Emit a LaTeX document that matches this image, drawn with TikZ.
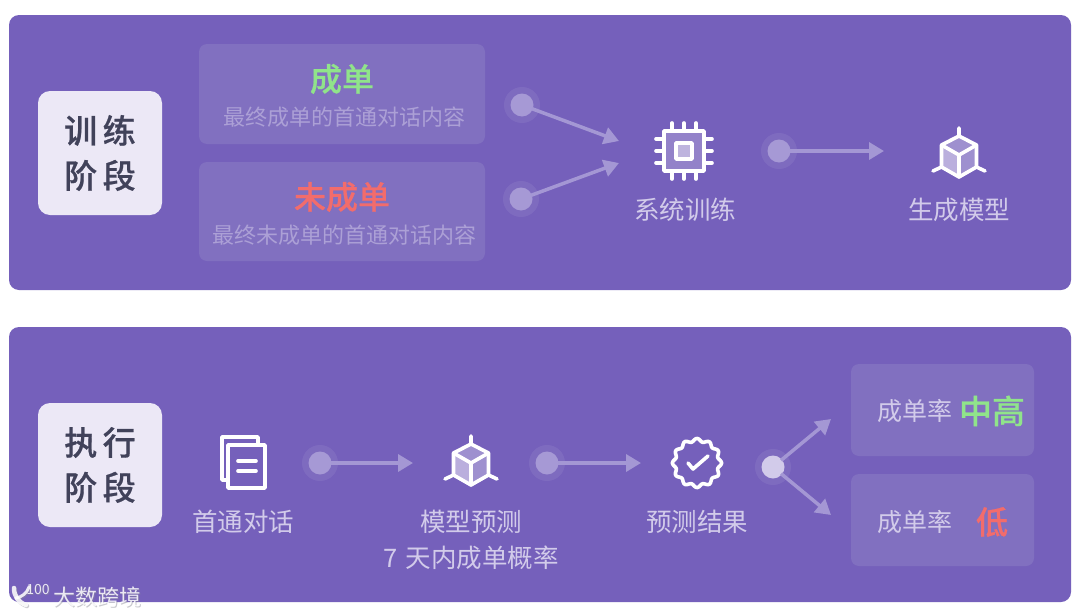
\documentclass[tikz,border=0pt]{standalone}
\usepackage{fontspec}
\setmainfont[BoldFont={Noto Sans CJK SC Medium},BoldFeatures={FakeBold=0.6}]{Noto Sans CJK SC}
\usetikzlibrary{arrows.meta}
\definecolor{panelc}{HTML}{7560BB}
\definecolor{cardc}{HTML}{8170C0}
\definecolor{boxc}{HTML}{ECE8F6}
\definecolor{inkc}{HTML}{41425A}
\definecolor{labc}{HTML}{D2CBEA}
\definecolor{subc}{HTML}{ACA0D6}
\definecolor{linec}{HTML}{A497D4}
\definecolor{dotc}{HTML}{A699D5}
\definecolor{greenc}{HTML}{90E48A}
\definecolor{redc}{HTML}{F26C6C}
\definecolor{wmshade}{HTML}{8A8A96}
\newcommand{\fs}[1]{\fontsize{#1}{#1}\selectfont}
\tikzset{
  panel/.style={fill=panelc,rounded corners=10pt,draw=none},
  card/.style={fill=cardc,rounded corners=8pt,draw=none},
  stagebox/.style={fill=boxc,rounded corners=12pt,draw=none,minimum width=124pt,minimum height=124pt,inner sep=0pt,align=center,text=inkc,font=\fs{33}\bfseries},
  lab/.style={text=labc,font=\fs{25.5},inner sep=0pt,anchor=center},
  sub/.style={text=subc,font=\fs{22},inner sep=0pt,anchor=center},
  big/.style={font=\fs{32}\bfseries,inner sep=0pt,anchor=center},
  halo/.style={circle,fill=white,fill opacity=.07,minimum size=36pt,inner sep=0pt,draw=none},
  dotn/.style={circle,fill=dotc,minimum size=23pt,inner sep=0pt,outer sep=0pt,draw=none},
  flow/.style={draw=linec,line width=3.5pt,shorten <=-1pt,-{Triangle[length=15pt,width=17pt]}},
  ico/.style={draw=white,line width=3.6pt,line join=round,line cap=round},
  wmtext/.style={font=\fs{22},inner sep=0pt},
  wmnum/.style={font=\fs{14},inner sep=0pt},
}
\newcommand{\cube}[2]{%
\begin{scope}[shift={(#1,#2)}]
  \fill[white,fill opacity=.3] (0,-19)--(17.5,-10)--(0,0)--(-17.5,-10)--cycle;
  \fill[white,fill opacity=.3] (0,0)--(17.5,-10)--(17.5,12)--(0,22)--cycle;
  \fill[white,fill opacity=.5] (0,0)--(-17.5,-10)--(-17.5,12)--(0,22)--cycle;
  \draw[ico] (0,-19)--(17.5,-10)--(17.5,12)--(0,22)--(-17.5,12)--(-17.5,-10)--cycle;
  \draw[ico] (-17.5,-10)--(0,0)--(17.5,-10) (0,0)--(0,22);
  \draw[ico] (0,-19)--(0,-27) (17.5,12)--(26,16) (-17.5,12)--(-26,16);
\end{scope}}
\newcommand{\wmlogo}[1]{%
  \draw[#1,line width=4.5pt,line cap=round] (14,588) .. controls (14,596) and (18,602) .. (26,605);
  \draw[#1,line width=3pt,line cap=round] (16,598) .. controls (22,597) and (27,593) .. (29,587);
}
\begin{document}
\begin{tikzpicture}[x=1pt,y=-1pt]
\useasboundingbox[fill=white] (0,0) rectangle (1080,616);
\fill[panel] (9,15) rectangle (1071,290);
\fill[panel] (9,327) rectangle (1071,602);
\fill[card] (199,44) rectangle (485,144);
\fill[card] (199,162) rectangle (485,261);
\fill[card] (851,364) rectangle (1034,456);
\fill[card] (851,474) rectangle (1034,566);
% stage boxes
\node[stagebox] (s1) at (100,153) {训\,练\\[12pt]阶\,段};
\node[stagebox] (s2) at (100,465) {执\,行\\[12pt]阶\,段};
% training texts
\node[big,text=greenc] (t1) at (342,79) {成单};
\node[sub] (t2) at (344,117) {最终成单的首通对话内容};
\node[big,text=redc] (t3) at (342,197) {未成单};
\node[sub] (t4) at (344,235) {最终未成单的首通对话内容};
\node[lab] (t5) at (685,210) {系统训练};
\node[lab] (t6) at (959,210) {生成模型};
% exec texts
\node[lab] (e1) at (243,522) {首通对话};
\node[lab] (e2) at (471,522) {模型预测};
\node[lab] (e3) at (471,558) {7\,\,天内成单概率};
\node[lab] (e4) at (697,522) {预测结果};
\node[text=labc,font=\fs{25},inner sep=0pt] (r1) at (915,411) {成单率};
\node[text=labc,font=\fs{25},inner sep=0pt] (r2) at (915,522) {成单率};
\node[font=\fs{33}\bfseries,text=greenc,inner sep=0pt] (r3) at (992,411) {中高};
\node[big,text=redc] (r4) at (992,522) {低};
% dots
\foreach \n/\px/\py in {d1/522/105,d2/521/199,d3/779/151,d4/320/463,d5/547/463}{
  \node[halo] at (\px,\py) {};
  \node[dotn] (\n) at (\px,\py) {};
}
\node[halo] at (773,467) {};
\node[circle,fill=labc,minimum size=23pt,inner sep=0pt,outer sep=0pt] (d6) at (773,467) {};
% free ends
\coordinate (a1) at (619,141);
\coordinate (a2) at (619,163);
\coordinate (a3) at (884,151);
\coordinate (a4) at (413,463);
\coordinate (a5) at (641,463);
\coordinate (a6) at (831,419);
\coordinate (a7) at (831,515);
\draw[flow] (d1) -- (a1);
\draw[flow] (d2) -- (a2);
\draw[flow] (d3) -- (a3);
\draw[flow] (d4) -- (a4);
\draw[flow] (d5) -- (a5);
\draw[flow] (d6) -- (a6);
\draw[flow] (d6) -- (a7);
% chip
\begin{scope}[shift={(684,151)}]
  \fill[white,fill opacity=.22] (-20,-20) rectangle (20,20);
  \fill[white,fill opacity=.4] (-8,-8) rectangle (8,8);
  \draw[ico] (-20,-20) rectangle (20,20);
  \draw[ico] (-8,-8) rectangle (8,8);
  \foreach \k in {-12,0,12}{
    \draw[ico] (\k,-20)--(\k,-28) (\k,20)--(\k,28) (-20,\k)--(-28,\k) (20,\k)--(28,\k);
  }
\end{scope}
\cube{959}{155}
\cube{471}{463}
% document icon
\draw[ico] (258,443)--(258,437)--(222,437)--(222,480)--(228,480);
\draw[ico] (228,445) rectangle (265,488);
\draw[ico] (238,461)--(256,461) (238,471)--(256,471);
% badge
\begin{scope}[shift={(697,463)}]
  \draw[ico] plot[smooth cycle,samples=97,domain=0:356.25] ({\x}:{23+1.6*cos(12*(\x-90))});
  \draw[ico] (-9,0)--(-4,6)--(11,-7);
\end{scope}
% watermark shadow
\begin{scope}[shift={(1,1)},opacity=.45]
  \wmlogo{wmshade}
  \node[wmnum,text=wmshade] at (38,590) {100};
  \node[wmtext,text=wmshade] at (97,597) {大数跨境};
\end{scope}
% watermark
\begin{scope}[opacity=.85]
  \wmlogo{white}
  \node[wmnum,text=white] (w1) at (38,590) {100};
  \node[wmtext,text=white] (w2) at (97,597) {大数跨境};
\end{scope}
\end{tikzpicture}
\end{document}
